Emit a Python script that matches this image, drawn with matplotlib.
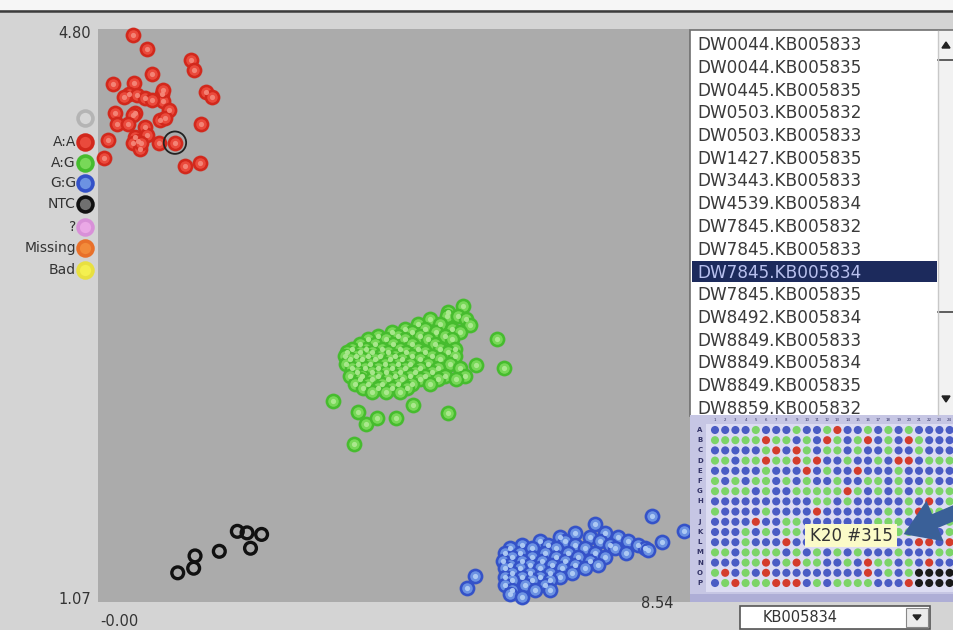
import matplotlib
matplotlib.use("Agg")
import matplotlib.pyplot as plt
from matplotlib.patches import Rectangle, Polygon, FancyArrow
import numpy as np

W, H = 954, 630

# ---------------- data ----------------
x_min, x_max = 0.00, 8.54
y_min, y_max = 1.07, 4.80

# A:A (red) cluster
aa_x = [0.50, 0.70, 1.34, 1.38, 0.78, 0.21, 0.52, 0.44, 0.56, 0.68, 0.92, 0.94, 1.56,
        1.65, 1.03, 0.90, 0.53, 0.24, 0.27, 0.68, 1.49, 0.15, 0.53, 0.58, 0.50, 0.88,
        1.11, 0.09, 1.25, 1.47, 0.50, 0.70, 0.97, 0.61, 0.94, 0.38, 0.62, 0.43, 0.78]
aa_y = [4.76, 4.67, 4.60, 4.53, 4.51, 4.44, 4.45, 4.38, 4.37, 4.35, 4.38, 4.33, 4.39,
        4.36, 4.27, 4.21, 4.25, 4.25, 4.18, 4.16, 4.18, 4.08, 4.10, 4.07, 4.06, 4.06,
        4.06, 3.96, 3.91, 3.93, 4.24, 4.11, 4.22, 4.02, 4.40, 4.36, 4.06, 4.18, 4.34]

# A:G (green) cluster, listed as rows of (y, [x ...])
ag_rows = [
    (3.00, [5.27]),
    (2.96, [5.05]),
    (2.93, [5.04, 5.20]),
    (2.91, [5.31, 4.79]),
    (2.88, [4.62, 4.94]),
    (2.87, [5.37]),
    (2.85, [4.43, 4.72, 5.11]),
    (2.83, [4.24, 4.53, 4.88, 5.22]),
    (2.80, [4.04, 4.33, 4.65, 5.01]),
    (2.78, [3.90, 4.16, 4.43, 4.76, 5.11]),
    (2.75, [3.78, 4.00, 4.26, 4.53, 4.86]),
    (2.72, [3.67, 3.87, 4.10, 4.36, 4.62, 4.94, 5.15]),
    (2.70, [3.59, 3.78, 3.95, 4.19, 4.45, 4.72, 5.05]),
    (2.67, [3.56, 3.72, 3.90, 4.07, 4.29, 4.53, 4.82, 5.15]),
    (2.65, [3.64, 3.81, 4.00, 4.21, 4.39, 4.65, 4.94]),
    (2.62, [3.58, 3.75, 3.93, 4.14, 4.33, 4.50, 4.76, 5.08]),
    (2.59, [3.67, 3.85, 4.04, 4.24, 4.43, 4.65, 4.91, 5.22]),
    (2.57, [3.74, 3.95, 4.16, 4.36, 4.57, 4.82]),
    (2.54, [3.64, 3.81, 4.04, 4.29, 4.50, 4.72, 5.01, 5.30]),
    (2.52, [3.78, 3.95, 4.19, 4.39, 4.65, 4.91, 5.17]),
    (2.49, [3.71, 3.90, 4.10, 4.33, 4.53, 4.79]),
    (2.46, [3.82, 4.04, 4.24, 4.46]),
    (2.44, [3.95, 4.16, 4.36]),
]
ag_extra_x = [3.39, 3.69, 3.75, 3.87, 4.03, 4.30, 4.54, 5.05, 5.75, 5.45, 5.85]
ag_extra_y = [2.38, 2.10, 2.31, 2.23, 2.27, 2.27, 2.35, 2.30, 2.78, 2.61, 2.59]

# G:G (blue) cluster, rows of (y, [x ...])
gg_rows = [
    (1.52, [6.88, 7.32]),
    (1.49, [6.67, 7.10, 7.50]),
    (1.47, [6.38, 6.74, 7.24, 7.65]),
    (1.44, [6.12, 6.49, 6.88, 7.39, 7.79]),
    (1.42, [5.95, 6.26, 6.61, 7.03, 7.46, 7.89]),
    (1.39, [5.87, 6.09, 6.45, 6.78, 7.17, 7.61]),
    (1.36, [5.97, 6.26, 6.60, 6.93, 7.32]),
    (1.34, [5.84, 6.12, 6.41, 6.74, 7.10]),
    (1.31, [5.95, 6.23, 6.55, 6.88, 7.22]),
    (1.29, [5.87, 6.09, 6.38, 6.70, 7.03]),
    (1.26, [5.97, 6.23, 6.52, 6.84]),
    (1.23, [5.87, 6.12, 6.38, 6.67]),
    (1.21, [5.97, 6.26, 6.52]),
    (1.18, [5.87, 6.16, 6.45]),
    (1.15, [5.97, 6.31]),
]
gg_extra_x = [7.99, 8.45, 8.13, 7.93, 7.17, 5.44, 5.32, 5.95, 6.11, 6.52]
gg_extra_y = [1.63, 1.53, 1.46, 1.41, 1.58, 1.24, 1.16, 1.12, 1.10, 1.15]

# NTC (black, open)
ntc_x = [1.15, 1.38, 1.40, 1.75, 2.01, 2.15, 2.36, 2.20]
ntc_y = [1.26, 1.29, 1.37, 1.40, 1.53, 1.52, 1.51, 1.42]

selected_point = (1.11, 4.06)

legend_labels = ["", "A:A", "A:G", "G:G", "NTC", "?", "Missing", "Bad"]

sample_names = ["DW0044.KB005833", "DW0044.KB005835", "DW0445.KB005835",
                "DW0503.KB005832", "DW0503.KB005833", "DW1427.KB005835",
                "DW3443.KB005833", "DW4539.KB005834", "DW7845.KB005832",
                "DW7845.KB005833", "DW7845.KB005834", "DW7845.KB005835",
                "DW8492.KB005834", "DW8849.KB005833", "DW8849.KB005834",
                "DW8849.KB005835", "DW8859.KB005832"]
selected_sample = 10

plate_row_labels = list("ABCDEFGHIJKLMNOP")
plate_calls = [
    "BBBBGBBBGBBGRBBGBGBGBBBB",
    "GGGGGRGGBGBRGBGRBGBRGBBB",
    "BBBBBGRBRGBGGBGBBGBBGBBB",
    "GGBGGRGGRGRBBGBBGBRRBGGG",
    "BBBBBGBBBRBGBBRBBBGBBBBB",
    "GBGBGGBGBGBBGBBGGBGBBGBB",
    "GGGGBGBBGGGGGRGBGBGBGGGG",
    "BBBBBBBBBBGGBGBBBBBGBRBG",
    "GBBBBGBBBBRBBBBBBGBGRGGG",
    "BBBBRBBGGBBBBBBBGGGBGBGG",
    "BBBGBGBGGBGBBGBBGBGGGGBG",
    "BBBGBBBRBBRBBBBBBBBBRRBR",
    "GGBGGGGBGBGBGBGBBBGBBBGG",
    "BBBGGRBGRGGBBGBRGGBGBRBB",
    "GRBGBRBBBBBBBBBRBGBGKKKK",
    "BGRGGGRRRBGBGGGGBBBRKKKK",
]
tooltip_text = "K20 #315"
assay_name = "KB005834"

# ---------------- build arrays ----------------
ag_x = [x for y, xs in ag_rows for x in xs] + ag_extra_x
ag_y = [y for y, xs in ag_rows for x in xs] + ag_extra_y
gg_x = [x for y, xs in gg_rows for x in xs] + gg_extra_x
gg_y = [y for y, xs in gg_rows for x in xs] + gg_extra_y

# ---------------- figure ----------------
fig = plt.figure(figsize=(W / 100, H / 100), dpi=100)
fig.patch.set_facecolor("#d4d4d4")

# main plot area (pixels 98..690 x 29..602)
ax = fig.add_axes([98 / W, (H - 602) / H, 592 / W, 573 / H], zorder=1)
ax.set_facecolor("#ababab")
ax.set_xlim(x_min, x_max)
ax.set_ylim(y_min, y_max)
ax.set_xticks([])
ax.set_yticks([])
for s in ax.spines.values():
    s.set_visible(False)


def draw_calls(x, y, rim, face, core):
    ax.scatter(x, y, s=135, color=rim, alpha=0.3, lw=0, clip_on=False, zorder=2)
    ax.scatter(x, y, s=88, facecolor=face, edgecolor=rim, lw=1.8, clip_on=False, zorder=3)
    ax.scatter(x, y, s=14, color=core, lw=0, alpha=0.9, clip_on=False, zorder=4)


draw_calls(aa_x, aa_y, "#d2281c", "#ea4a3c", "#f58a7c")
draw_calls(ag_x, ag_y, "#46bc2e", "#78d858", "#b0ea94")
draw_calls(gg_x, gg_y, "#3452c8", "#6c92e2", "#b4d0f6")
ax.scatter(ntc_x, ntc_y, s=72, facecolor="none", edgecolor="#111111", lw=2.4,
           clip_on=False, zorder=3)
ax.scatter([selected_point[0]], [selected_point[1]], s=260, facecolor="none",
           edgecolor="#222222", lw=1.3, clip_on=False, zorder=5)

# ---------------- UI overlay (pixel coordinates) ----------------
ui = fig.add_axes([0, 0, 1, 1], zorder=5)
ui.set_xlim(0, W)
ui.set_ylim(H, 0)
ui.axis("off")
ui.patch.set_alpha(0)

# top window border
ui.add_patch(Rectangle((0, 0), W, 10, facecolor="#f6f6f6", lw=0))
ui.plot([0, W], [11, 11], color="#3c3c3c", lw=1.8)

txt_col = "#333333"
ui.text(91, 33, f"{y_max:.2f}", ha="right", va="center", fontsize=10.5, color=txt_col)
ui.text(91, 600, f"{y_min:.2f}", ha="right", va="center", fontsize=10.5, color=txt_col)
ui.text(100, 621, "-0.00", ha="left", va="center", fontsize=10.5, color=txt_col)
ui.text(641, 604, f"{x_max:.2f}", ha="left", va="center", fontsize=10.5, color=txt_col)

# legend
leg_y = [118, 142, 163, 183, 204, 227, 248, 270]
leg_face = ["#d6d6d6", "#ea4a3c", "#78d858", "#6c92e2", "#707070", "#eaa8e6", "#f28a3a", "#f4f050"]
leg_edge = ["#b4b4b4", "#d2281c", "#46bc2e", "#3452c8", "#111111", "#d890d8", "#e8702a", "#e8e040"]
for lab, yy, fc, ec in zip(legend_labels, leg_y, leg_face, leg_edge):
    ui.scatter([85], [yy], s=115, facecolor=fc, edgecolor=ec, lw=2.6, zorder=6)
    if lab:
        ui.text(76, yy, lab, ha="right", va="center", fontsize=10, color=txt_col)

# list box
ui.add_patch(Rectangle((690, 30), 264, 386, facecolor="white", edgecolor="#707070", lw=1.2))
item_y0, item_dy = 44, 22.75
for i, name in enumerate(sample_names):
    yy = item_y0 + i * item_dy
    col = "#3a3a3a"
    if i == selected_sample:
        ui.add_patch(Rectangle((692, yy - 10.5), 245, 21, facecolor="#1c2a5c", lw=0))
        col = "#b8c0ee"
    ui.text(697, yy + 1, name, ha="left", va="center", fontsize=12.2, color=col)

# scrollbar
ui.add_patch(Rectangle((938, 31), 16, 384, facecolor="#f2f2f2", lw=0))
ui.add_patch(Polygon([[942, 48], [950, 48], [946, 42]], closed=True, color="#222222"))
ui.add_patch(Polygon([[942, 396], [950, 396], [946, 402]], closed=True, color="#222222"))
ui.plot([938, 954], [60, 60], color="#444444", lw=1.2)
ui.plot([938, 954], [312, 312], color="#444444", lw=1.2)
ui.plot([938, 938], [31, 415], color="#c8c8c8", lw=1)

# plate map
ui.add_patch(Rectangle((690, 415), 264, 185, facecolor="#c6c6e4", lw=0))
ui.add_patch(Rectangle((706, 424), 248, 168, facecolor="#dcdcf2", lw=0))
ui.add_patch(Rectangle((690, 594), 264, 8, facecolor="#aeaed6", lw=0))
col_x0, col_dx = 715.0, 10.2
row_y0, row_dy = 430.0, 10.2
call_color = {"B": "#4a5cc4", "G": "#7cd468", "R": "#d43c2c", "K": "#1a1a1a"}
px, py, pc = [], [], []
for r, row in enumerate(plate_calls):
    for c, call in enumerate(row):
        px.append(col_x0 + c * col_dx)
        py.append(row_y0 + r * row_dy)
        pc.append(call_color[call])
ui.scatter(px, py, s=34, c=pc, lw=0, zorder=6)
for r, lab in enumerate(plate_row_labels):
    ui.text(700, row_y0 + r * row_dy, lab, ha="center", va="center", fontsize=5,
            fontweight="bold", color="#333366")
for c in range(24):
    ui.text(col_x0 + c * col_dx, 420, str(c + 1), ha="center", va="center",
            fontsize=2.8, color="#333366")

# tooltip + arrow
ui.add_patch(Rectangle((805, 524), 92, 23, facecolor="#fbfbc8", lw=0, zorder=7))
ui.text(851, 536, tooltip_text, ha="center", va="center", fontsize=12,
        color="#333333", zorder=8)
ui.add_patch(FancyArrow(985, 500, -50, 21, width=15, head_width=44, head_length=34,
                        length_includes_head=False, color="#3a6098", lw=0, zorder=9))

# dropdown
ui.add_patch(Rectangle((740, 606), 190, 23, facecolor="white", edgecolor="#555555", lw=1.2))
ui.text(800, 618, assay_name, ha="center", va="center", fontsize=10.5, color=txt_col)
ui.add_patch(Rectangle((906, 608), 22, 19, facecolor="#ececec", edgecolor="#888888", lw=0.8))
ui.add_patch(Polygon([[913, 615], [921, 615], [917, 620]], closed=True, color="#222222"))

fig.savefig("out.png", dpi=100, facecolor=fig.get_facecolor())
